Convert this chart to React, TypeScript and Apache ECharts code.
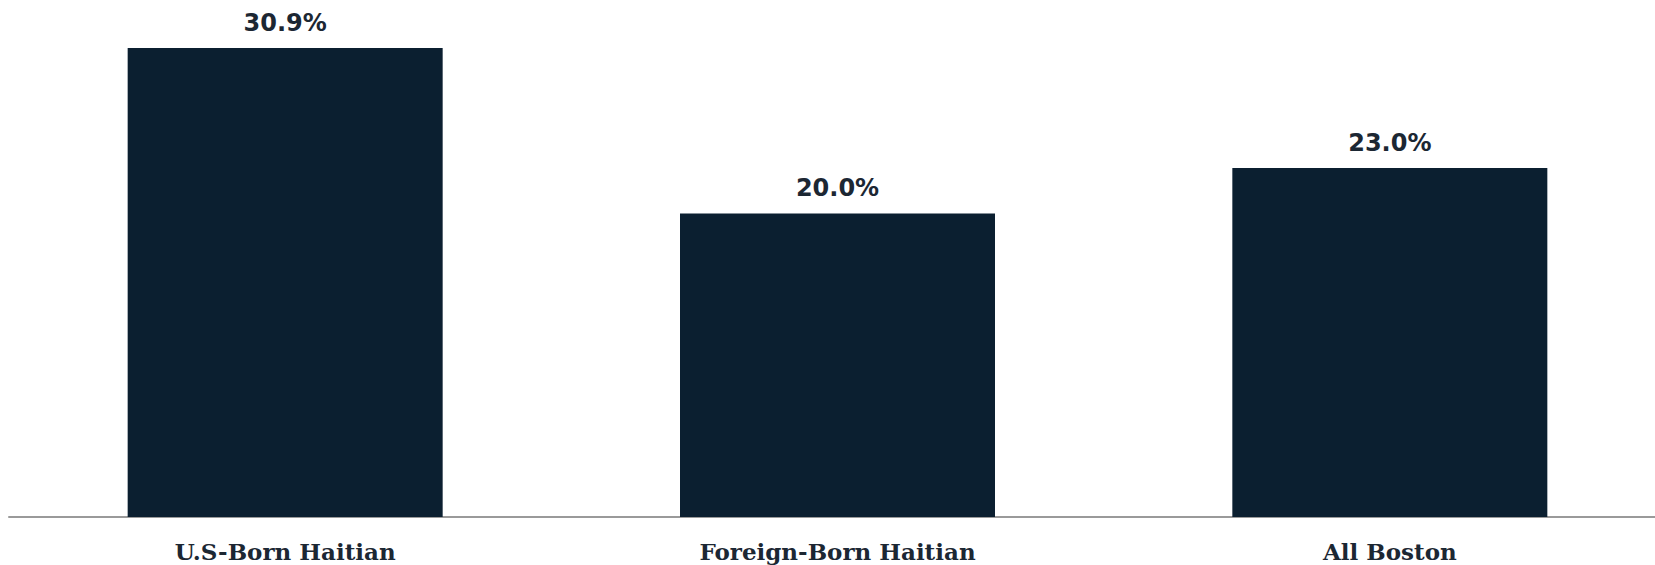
import React, { useEffect, useRef } from "react";
import * as echarts from "echarts";

const categories = ["U.S-Born Haitian", "Foreign-Born Haitian", "All Boston"];
const values = [30.9, 20.0, 23.0];

export default function App() {
  const ref = useRef<HTMLDivElement>(null);
  useEffect(() => {
    if (!ref.current) return;
    const chart = echarts.init(ref.current, null, { renderer: "svg" });
    chart.setOption({
      animation: false,
      backgroundColor: "#ffffff",
      grid: { left: 9, width: 1657, top: 48, bottom: 48, containLabel: false },
      xAxis: {
        type: "category",
        data: categories,
        axisLine: { show: true, lineStyle: { color: "#9a9a9a", width: 2 } },
        axisTick: { show: false },
        axisLabel: {
          color: "#1c2733",
          fontFamily: "DejaVu Serif",
          fontWeight: "bold",
          fontSize: 23,
          margin: 23,
        },
      },
      yAxis: {
        type: "value",
        min: 0,
        max: 30.9,
        show: false,
        splitLine: { show: false },
      },
      series: [
        {
          type: "bar",
          data: values,
          barWidth: 315,
          itemStyle: { color: "#0b1f30" },
          label: {
            show: true,
            position: "top",
            distance: 13,
            color: "#1c2733",
            fontFamily: "DejaVu Sans",
            fontWeight: "bold",
            fontSize: 24,
            formatter: (p: any) => p.value.toFixed(1) + "%",
          },
        },
      ],
    });
    return () => chart.dispose();
  }, []);
  return (
    <div
      style={{ position: "absolute", left: 0, top: 0, width: 1655, height: 565, overflow: "hidden", background: "#fff" }}
    >
      <div ref={ref} style={{ width: 1690, height: 565 }} />
    </div>
  );
}
